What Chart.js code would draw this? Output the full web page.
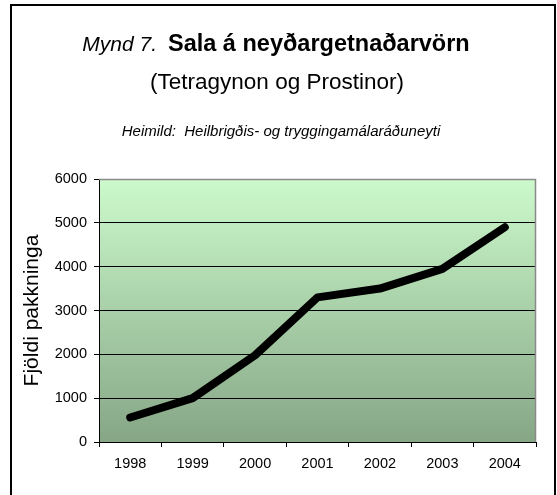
<!DOCTYPE html>
<html>
<head>
<meta charset="utf-8">
<script src="https://cdn.jsdelivr.net/npm/chart.js@4/dist/chart.umd.min.js"></script>
<style>
html,body{margin:0;padding:0;background:#fff;}
#wrap{width:557px;height:495px;position:relative;}
</style>
</head>
<body>
<div id="wrap"><canvas id="c" width="557" height="495"></canvas></div>
<script>
const years = ['1998','1999','2000','2001','2002','2003','2004'];
const packages = [560, 1000, 1980, 3300, 3500, 3950, 4900];
const yTicks = [0, 1000, 2000, 3000, 4000, 5000, 6000];
const titleItalic = 'Mynd 7.';
const titleBold = 'Sala á neyðargetnaðarvörn';
const subtitle = '(Tetragynon og Prostinor)';
const sourceText = 'Heimild:  Heilbrigðis- og tryggingamálaráðuneyti';
const yTitle = 'Fjöldi pakkninga';

const FONT = '"Liberation Sans", Arial, sans-serif';

const decor = {
  id: 'decor',
  beforeDraw(chart) {
    const ctx = chart.ctx, a = chart.chartArea;
    ctx.save();
    ctx.fillStyle = '#fff';
    ctx.fillRect(0, 0, chart.width, chart.height);
    const g = ctx.createLinearGradient(0, a.top, 0, a.bottom);
    g.addColorStop(0, '#ccfacc');
    g.addColorStop(1, '#86a686');
    ctx.fillStyle = g;
    ctx.fillRect(a.left, a.top, a.right - a.left, a.bottom - a.top);
    ctx.restore();
  },
  afterDraw(chart) {
    const ctx = chart.ctx, a = chart.chartArea;
    ctx.save();
    ctx.strokeStyle = '#8a8a8a';
    ctx.lineWidth = 1.5;
    ctx.beginPath();
    ctx.moveTo(a.left, a.top + 0.5);
    ctx.lineTo(a.right - 0.5, a.top + 0.5);
    ctx.lineTo(a.right - 0.5, a.bottom);
    ctx.stroke();
    ctx.strokeStyle = '#000';
    ctx.lineWidth = 2;
    ctx.beginPath();
    ctx.moveTo(11, 500);
    ctx.lineTo(11, 5);
    ctx.lineTo(555, 5);
    ctx.lineTo(555, 500);
    ctx.stroke();
    ctx.fillStyle = '#000';
    ctx.textBaseline = 'alphabetic';
    ctx.textAlign = 'left';
    const f1 = 'italic 21px ' + FONT;
    const f2 = 'bold 23.5px ' + FONT;
    ctx.font = f1; const w1 = ctx.measureText(titleItalic).width;
    ctx.font = f2; const w2 = ctx.measureText(titleBold).width;
    const gap = 11;
    const total = w1 + gap + w2;
    const cx = 276;
    let x = cx - total / 2;
    ctx.font = f1; ctx.fillText(titleItalic, x, 51);
    ctx.font = f2; ctx.fillText(titleBold, x + w1 + gap, 51);
    ctx.textAlign = 'center';
    ctx.font = '22.5px ' + FONT;
    ctx.fillText(subtitle, 277, 89);
    ctx.font = 'italic 15px ' + FONT;
    ctx.fillText(sourceText, 281, 136);
    ctx.restore();
  }
};

new Chart(document.getElementById('c'), {
  type: 'line',
  data: {
    labels: years,
    datasets: [{
      data: packages,
      borderColor: '#000',
      borderWidth: 8,
      borderCapStyle: 'round',
      borderJoinStyle: 'round',
      pointRadius: 0,
      tension: 0,
      fill: false
    }]
  },
  options: {
    responsive: false,
    animation: false,
    devicePixelRatio: 1,
    layout: { padding: { top: 179, right: 21, bottom: 0, left: 0 } },
    plugins: { legend: { display: false }, tooltip: { enabled: false }, title: { display: false } },
    scales: {
      x: {
        type: 'category',
        offset: true,
        grid: { offset: true, drawOnChartArea: false, tickLength: 5, color: '#000', lineWidth: 1 },
        border: { color: '#000', width: 1 },
        ticks: { color: '#000', font: { family: FONT, size: 14.5 }, padding: 8, maxRotation: 0 },
        afterFit(s) { s.height = 53; }
      },
      y: {
        min: 0, max: 6000,
        afterBuildTicks(s) { s.ticks = yTicks.map(v => ({ value: v })); },
        grid: { color: '#000', lineWidth: 1, tickLength: 5, drawTicks: true },
        border: { color: '#000', width: 1 },
        ticks: { color: '#000', font: { family: FONT, size: 14.5 }, padding: 7, callback: v => String(v) },
        title: { display: true, text: yTitle, color: '#000', font: { family: FONT, size: 21 }, padding: { top: 20, bottom: 0 } },
        afterFit(s) { s.width = 99; }
      }
    }
  },
  plugins: [decor]
});
</script>
</body>
</html>
